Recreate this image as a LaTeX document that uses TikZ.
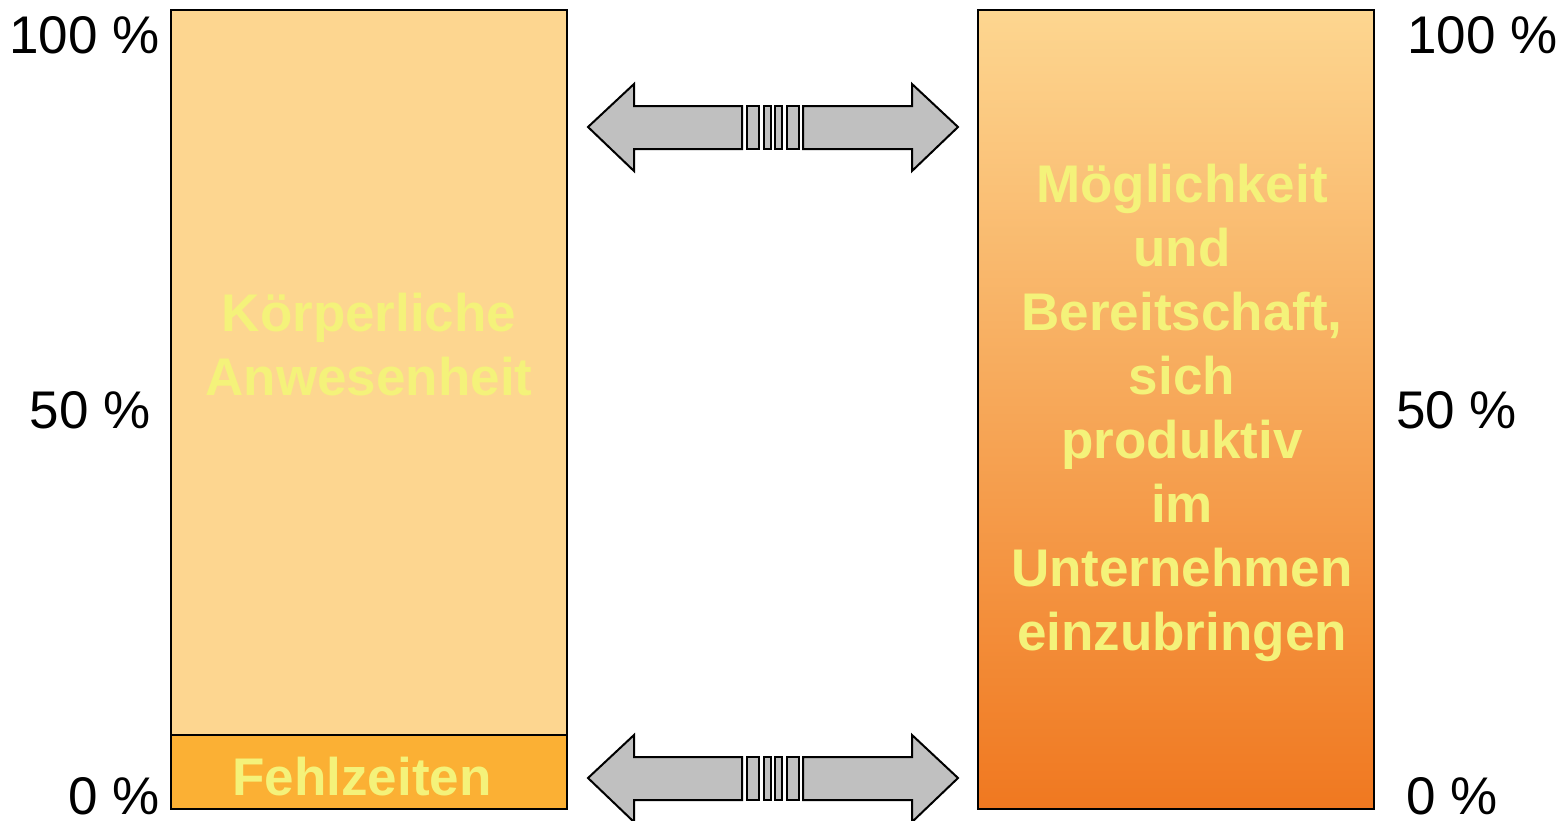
\documentclass[tikz,border=0pt]{standalone}
\usepackage{fontspec}
\setmainfont{Liberation Sans}
\definecolor{barlight}{HTML}{FDD690}
\definecolor{barfehl}{HTML}{FBB034}
\definecolor{barorange}{HTML}{F07820}
\definecolor{txtyellow}{HTML}{F4F27A}
\definecolor{arrgray}{HTML}{C0C0C0}
\begin{document}
\begin{tikzpicture}[x=1pt,y=-1pt,
  bar/.style={draw=black,line width=2pt},
  pct/.style={font=\fontsize{53}{60}\selectfont,inner sep=0pt},
  lbl/.style={font=\fontsize{53}{64}\selectfont\bfseries,text=txtyellow,align=center,inner sep=0pt},
  arr/.style={draw=black,line width=2pt,fill=arrgray,line join=miter}]
\useasboundingbox (0,0) rectangle (1568,820);
% left bar
\path[bar,fill=barlight] (171,10) rectangle (567,735);
\path[bar,fill=barfehl] (171,735) rectangle (567,809);
\node[lbl] (koerper) at (369,345) {Körperliche\\Anwesenheit};
\node[lbl] (fehl) at (362,777) {Fehlzeiten};
% right bar
\shade[top color=barlight,bottom color=barorange] (978,10) rectangle (1374,809);
\draw[bar] (978,10) rectangle (1374,809);
\node[lbl] (moeg) at (1182,413) {Möglichkeit\\und\\Bereitschaft,\\sich\\produktiv\\im\\Unternehmen\\einzubringen};
% percent labels
\node[pct,anchor=east] (l100) at (160,35) {100 \%};
\node[pct,anchor=east] (l50) at (151,410) {50 \%};
\node[pct,anchor=east] (l0) at (160,796) {0 \%};
\node[pct,anchor=west] (r100) at (1407,35) {100 \%};
\node[pct,anchor=west] (r50) at (1396,410) {50 \%};
\node[pct,anchor=west] (r0) at (1406,796) {0 \%};
% arrows
\foreach \yc in {127,778}{
  \begin{scope}[yshift={-(\yc-127)*1pt}]
  \path[arr] (588,127) -- (634,84) -- (634,106) -- (742,106) -- (742,149) -- (634,149) -- (634,171) -- cycle;
  \path[arr] (958,127) -- (912,84) -- (912,106) -- (803,106) -- (803,149) -- (912,149) -- (912,171) -- cycle;
  \path[arr] (747,106) rectangle (759,149);
  \path[arr] (764,106) rectangle (771,149);
  \path[arr] (775,106) rectangle (782,149);
  \path[arr] (787,106) rectangle (799,149);
  \end{scope}
}
\end{tikzpicture}
\end{document}
